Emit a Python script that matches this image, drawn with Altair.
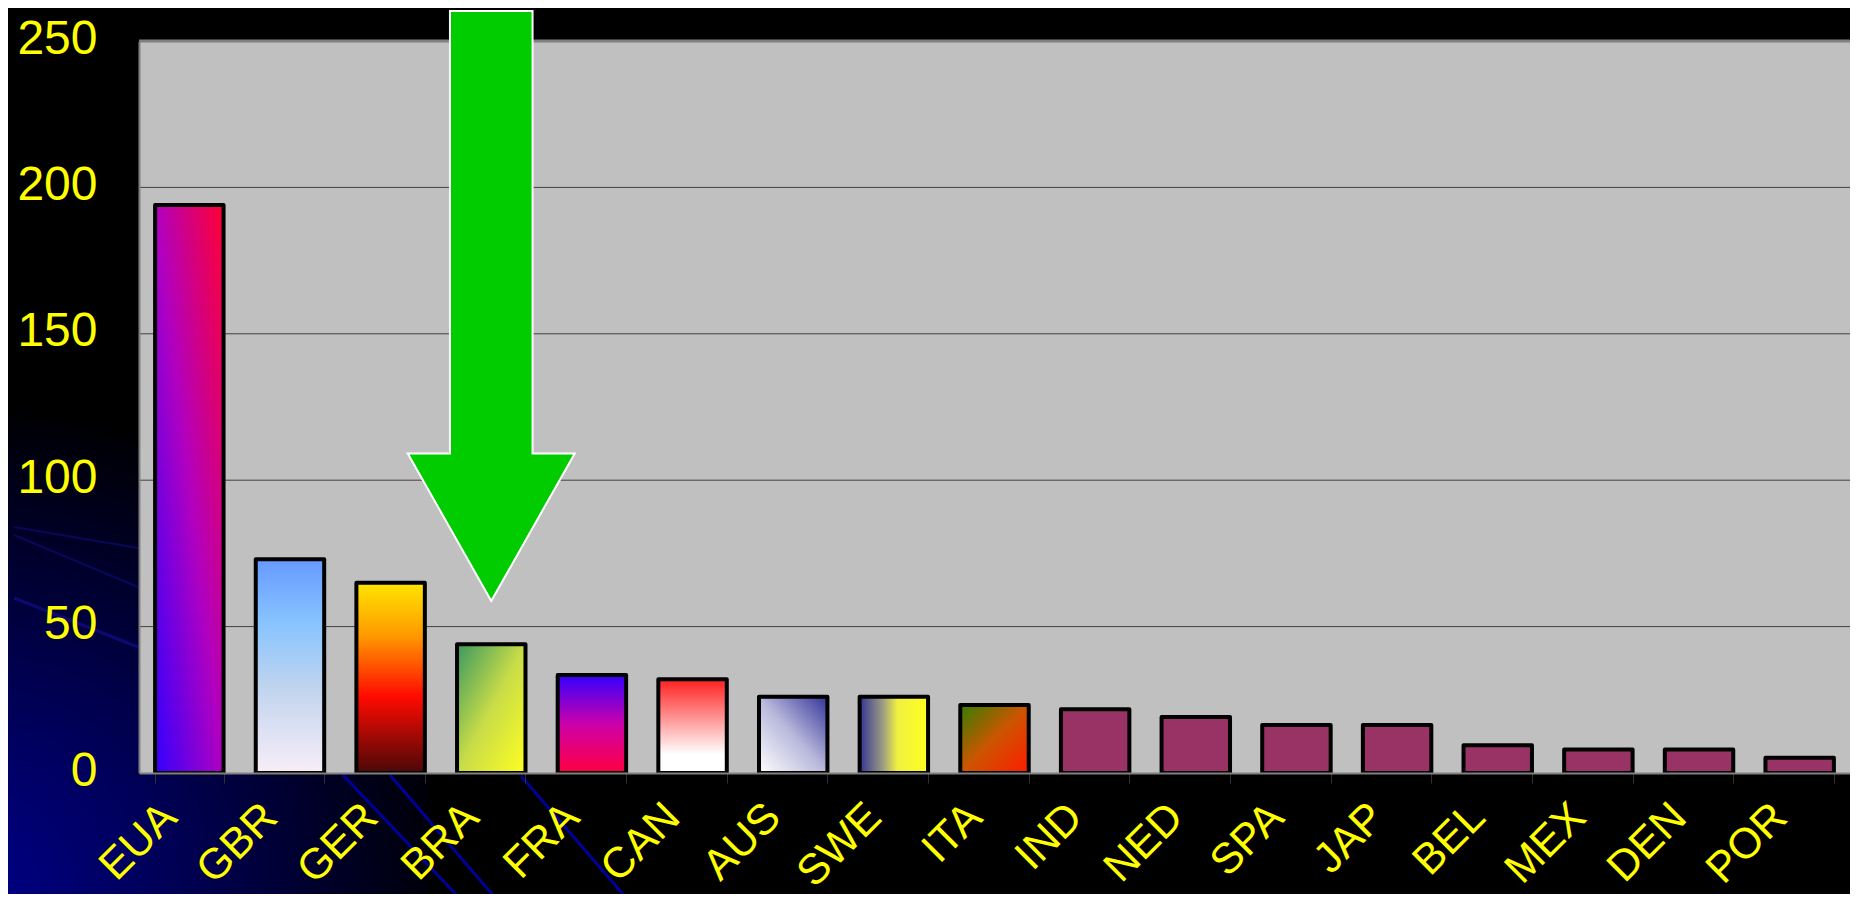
import altair as alt
import pandas as pd

# ---- data ----
countries = ["EUA", "GBR", "GER", "BRA", "FRA", "CAN", "AUS", "SWE", "ITA",
             "IND", "NED", "SPA", "JAP", "BEL", "MEX", "DEN", "POR"]
values = [194, 73, 65, 44, 33.5, 32, 26, 26, 23.2, 21.8, 19.1, 16.4, 16.4, 9.5, 8, 8, 5.2]
y_ticks = [0, 50, 100, 150, 200, 250]
grid_values = [50, 100, 150, 200]
highlight = ["BRA"]

# ---- layout ----
W, H = 1711, 732
PAD = {"left": 131, "top": 33, "right": 0, "bottom": 121}
FONT = "Liberation Sans"
YELLOW = "#FFFF00"


def lin(x1, y1, x2, y2, stops):
    return {"gradient": "linear", "x1": x1, "y1": y1, "x2": x2, "y2": y2,
            "stops": [{"offset": o, "color": c} for o, c in stops]}


bar_fills = {
    "EUA": lin(0, 1, 1, 0, [(0, "#3300FF"), (0.5, "#B000C0"), (1, "#FF0033")]),
    "GBR": lin(0, 0, 0, 1, [(0, "#6699FF"), (0.3, "#88C4FF"), (0.6, "#C0D4EE"), (1, "#F8EEF8")]),
    "GER": lin(0, 0, 0, 1, [(0, "#FFE600"), (0.28, "#FF9900"), (0.6, "#FF0A00"), (1, "#4A0808")]),
    "BRA": lin(0, 0, 1, 1, [(0, "#3A9860"), (0.5, "#C8DC48"), (1, "#FFFF20")]),
    "FRA": lin(0, 0, 0, 1, [(0, "#3300FF"), (0.5, "#CC00AA"), (1, "#FF0040")]),
    "CAN": lin(0, 0, 0, 1, [(0, "#FF2020"), (0.8, "#FFFFFF"), (1, "#FFFFFF")]),
    "AUS": lin(0, 1, 1, 0, [(0, "#FFFFFF"), (0.5, "#B8B8DC"), (1, "#333399")]),
    "SWE": lin(0, 0, 1, 0, [(0, "#333399"), (0.35, "#A0A080"), (0.55, "#F0F040"), (1, "#FFFF20")]),
    "ITA": lin(0, 0, 1, 1, [(0, "#338000"), (0.5, "#CC5500"), (1, "#FF1A00")]),
}
default_fill = "#993366"

df = pd.DataFrame({"country": countries, "value": values})
grid_df = pd.DataFrame({"v": grid_values})
arrow_df = pd.DataFrame({"country": highlight})
one = pd.DataFrame({"d": [0]})

x_scale = alt.Scale(domain=countries, paddingInner=0.32, paddingOuter=0.16)
y_scale = alt.Scale(domain=[0, 250], nice=False, zero=True)

x_axis = alt.Axis(title=None, labelAngle=-45, labelAlign="right", labelBaseline="middle",
                  labelFont=FONT, labelFontSize=43, labelColor=YELLOW, labelPadding=27,
                  labelOffset=-20, labelOverlap=False, labelLimit=300,
                  tickBand="extent", tickSize=10, tickColor="#303030", tickWidth=1,
                  domainColor="#808080", domainWidth=2, grid=False, zindex=1)
y_axis = alt.Axis(title=None, values=y_ticks, format="d", labelFont=FONT, labelFontSize=48,
                  labelColor=YELLOW, labelPadding=37, labelOffset=-2, labelBaseline="middle",
                  tickSize=5, tickColor="black", domainColor="#808080", domainWidth=2,
                  grid=False, zindex=1)

# ---- decoration: navy corner glow and swoosh lines ----
navy = alt.Chart(one).mark_rect(fill={
    "gradient": "radial", "x1": 0, "y1": 1, "r1": 0, "x2": 0, "y2": 1, "r2": 1,
    "stops": [{"offset": 0, "color": "#000088"}, {"offset": 0.45, "color": "#000050"},
              {"offset": 1, "color": "#000000"}]}).encode(
    x=alt.value(-131), x2=alt.value(290), y=alt.value(359), y2=alt.value(H + PAD["bottom"]))


def swoosh(x1, y1, x2, y2, color, w):
    return alt.Chart(one).mark_rule(color=color, strokeWidth=w).encode(
        x=alt.value(x1), y=alt.value(y1), x2=alt.value(x2), y2=alt.value(y2))


swooshes = [
    swoosh(204, 734, 328, 865, "#000099", 3),
    swoosh(251, 734, 358, 859, "#000099", 3),
    swoosh(382, 735, 489, 859, "#000099", 3),
    swoosh(-125, 486, -1, 507, "#08085A", 2),
    swoosh(-125, 494, -1, 546, "#08085A", 2),
    swoosh(-125, 557, -1, 606, "#0A0A70", 3),
]

plot_bg = alt.Chart(one).mark_rect(color="#C0C0C0").encode(
    x=alt.value(0), x2=alt.value(W), y=alt.value(0), y2=alt.value(H))

grid = alt.Chart(grid_df).mark_rule(color="#404040", strokeWidth=1).encode(
    y=alt.Y("v:Q", scale=y_scale, axis=y_axis))

top_border = alt.Chart(one).mark_rule(color="#808080", strokeWidth=3).encode(
    x=alt.value(0), x2=alt.value(W), y=alt.value(0))

fill_enc = {
    "condition": [{"test": f"datum.country === '{k}'", "value": g} for k, g in bar_fills.items()],
    "value": default_fill,
}

bars = alt.Chart(df).mark_bar(stroke="black", strokeWidth=4, strokeJoin="round").encode(
    x=alt.X("country:N", scale=x_scale, axis=x_axis),
    y=alt.Y("value:Q", scale=y_scale, axis=y_axis),
    fill=fill_enc,
)

arrow_path = "M -0.14 -1 L 0.14 -1 L 0.14 0.5 L 0.283 0.5 L 0 1 L -0.283 0.5 L -0.14 0.5 Z"
arrow = alt.Chart(arrow_df).mark_point(
    shape=arrow_path, size=348100, filled=True, fill="#00CC00", stroke="white",
    strokeWidth=2, opacity=1).encode(
    x=alt.X("country:N", scale=x_scale, axis=x_axis),
    y=alt.value(265),
)

chart = alt.layer(navy, *swooshes, plot_bg, grid, top_border, bars, arrow).properties(
    width=W, height=H, background="black", padding=PAD,
    autosize=alt.AutoSizeParams(type="none"),
).configure_view(strokeWidth=0)

chart.save("out.html", embed_options={"renderer": "svg", "actions": False})
